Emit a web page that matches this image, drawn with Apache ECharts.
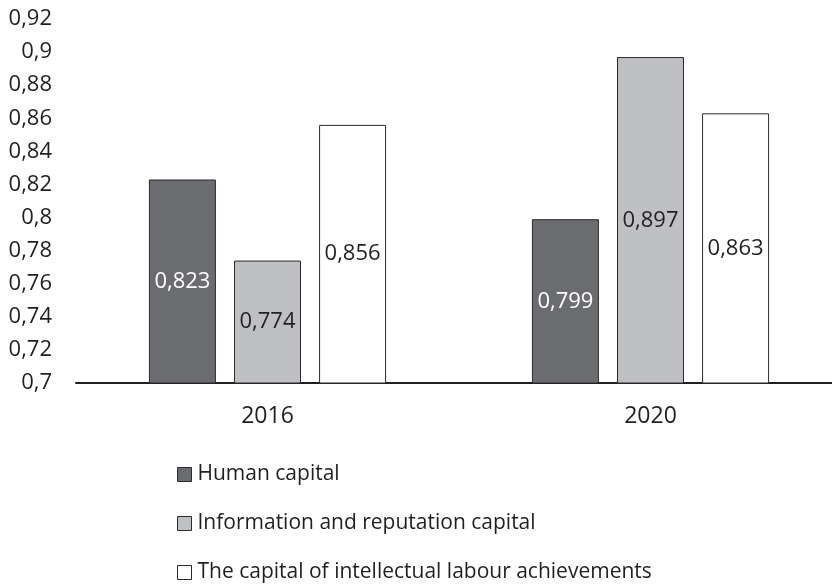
<!DOCTYPE html>
<html><head><meta charset="utf-8">
<script src="https://cdn.jsdelivr.net/npm/echarts@6/dist/echarts.min.js"></script>
<style>html,body{margin:0;padding:0;background:#fff}#c{width:832px;height:585px}</style>
</head><body><div id="c"></div>
<script>
const categories = ['2016', '2020'];
const seriesNames = ['Human capital', 'Information and reputation capital', 'The capital of intellectual labour achievements'];
const humanCapital = [0.823, 0.799];
const infoReputationCapital = [0.774, 0.897];
const intellectualCapital = [0.856, 0.863];
const yMin = 0.7, yMax = 0.92, yStep = 0.02;

const fmt = v => parseFloat(v.toFixed(3)).toString().replace('.', ',');
const font = '"Open Sans", sans-serif';
const txt = '#231f20';
const colors = ['#6b6c6f', '#bfc0c3', '#ffffff'];
const labelColors = ['#ffffff', txt, txt];
const dataSets = [humanCapital, infoReputationCapital, intellectualCapital];

const chart = echarts.init(document.getElementById('c'));
chart.setOption({
  animation: false,
  backgroundColor: '#fff',
  grid: { left: 76, right: -10, top: 19, bottom: 202, containLabel: false, outerBoundsMode: 'none' },
  legend: {
    orient: 'vertical', left: 177, top: 464, padding: 0,
    itemWidth: 14, itemHeight: 14, itemGap: 28,
    icon: 'rect',
    itemStyle: { borderColor: '#2b2b2b', borderWidth: 1 },
    textStyle: { fontFamily: font, fontSize: 21, color: txt, lineHeight: 20, padding: [0, 0, 0, 1] },
    data: seriesNames
  },
  xAxis: {
    type: 'category', data: categories,
    axisLine: { lineStyle: { color: txt, width: 2 } },
    axisTick: { show: false },
    axisLabel: { fontFamily: font, fontSize: 23, color: txt, margin: 22 }
  },
  yAxis: {
    type: 'value', min: yMin, max: yMax, interval: yStep,
    axisLine: { show: false }, axisTick: { show: false }, splitLine: { show: false },
    axisLabel: { fontFamily: font, fontSize: 22, color: txt, margin: 24, formatter: v => fmt(v) }
  },
  series: dataSets.map((d, i) => ({
    name: seriesNames[i], type: 'bar', data: d,
    barWidth: 67, barGap: '27%',
    itemStyle: { color: colors[i], borderColor: '#2b2b2b', borderWidth: 1 },
    label: { show: true, position: 'inside', fontFamily: font, fontSize: 22, color: labelColors[i], formatter: p => fmt(p.value) }
  }))
});
</script></body></html>
